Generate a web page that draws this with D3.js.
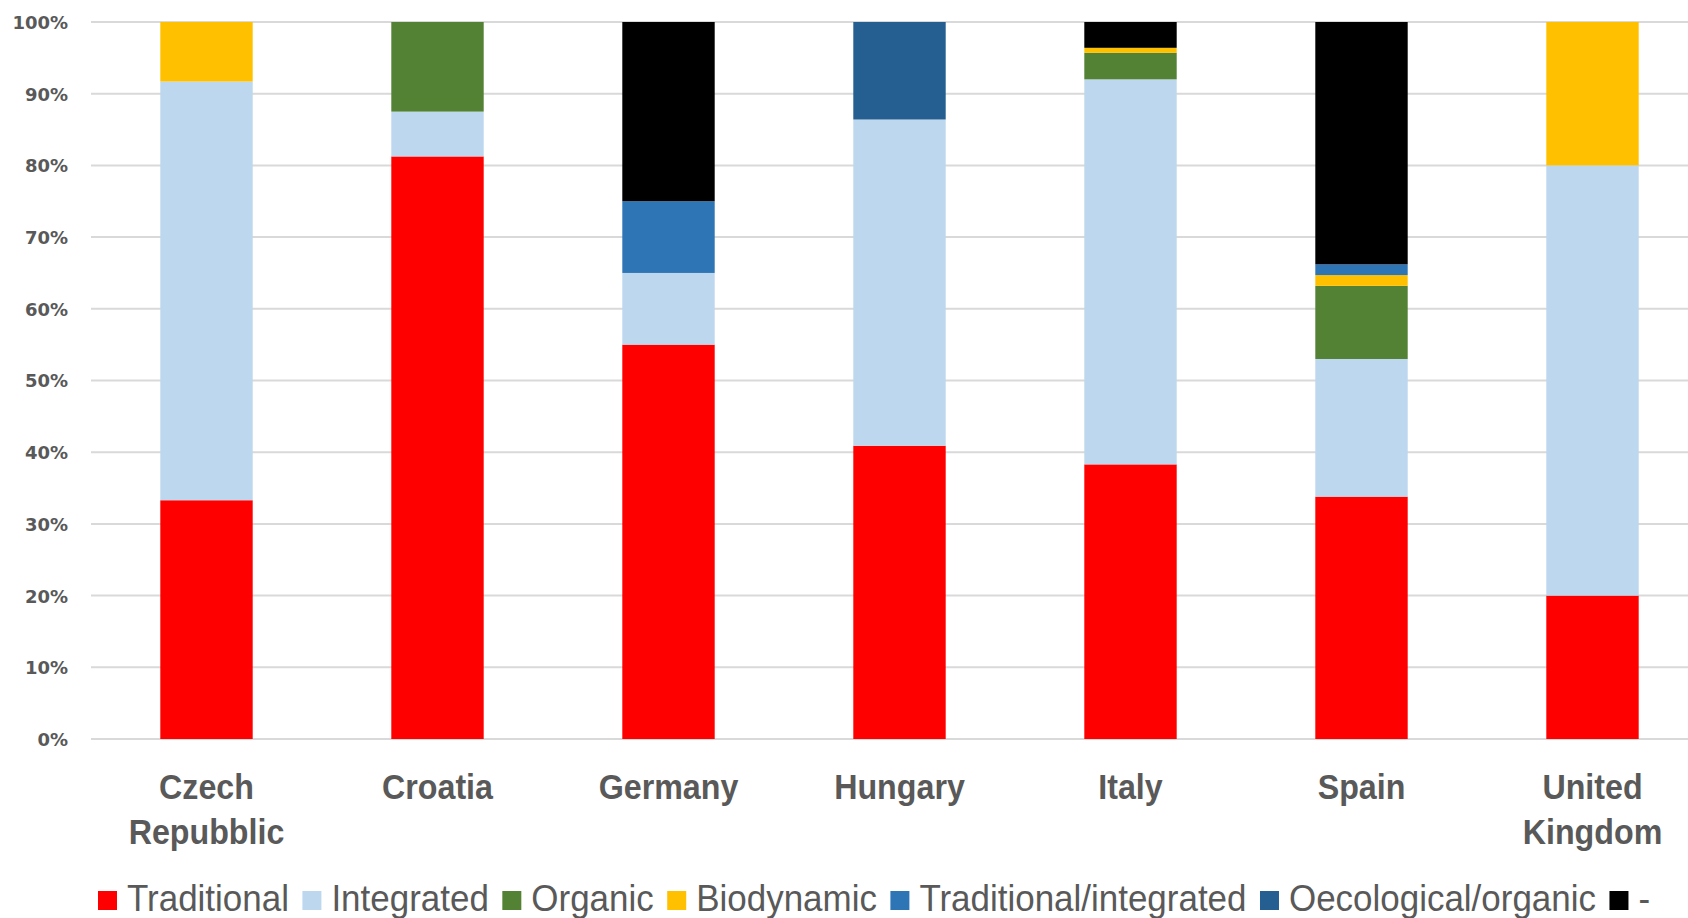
<!DOCTYPE html>
<html><head><meta charset="utf-8">
<script src="https://cdn.jsdelivr.net/npm/d3@7"></script>
<style>
html,body{margin:0;padding:0;background:#fff;overflow:hidden}
svg{display:block}
</style></head>
<body>
<svg id="chart" width="1688" height="918"></svg>
<script>
const categories = [["Czech","Repubblic"],["Croatia"],["Germany"],["Hungary"],["Italy"],["Spain"],["United","Kingdom"]];
const seriesNames = ["Traditional","Integrated","Organic","Biodynamic","Traditional/integrated","Oecological/organic","-"];
const seriesColors = ["#FF0000","#BDD7EE","#548235","#FFC000","#2E75B6","#255E91","#000000"];
const traditional   = [33.3, 81.25, 55.0, 40.9, 38.3, 33.8, 20.0];
const integrated    = [58.4,  6.25, 10.0, 45.5, 53.7, 19.2, 60.0];
const organic       = [ 0.0, 12.5,   0.0,  0.0,  3.7, 10.2,  0.0];
const biodynamic    = [ 8.3,  0.0,   0.0,  0.0,  0.7,  1.5, 20.0];
const tradIntegrated= [ 0.0,  0.0,  10.0,  0.0,  0.0,  1.5,  0.0];
const oecological   = [ 0.0,  0.0,   0.0, 13.6,  0.0,  0.0,  0.0];
const dash          = [ 0.0,  0.0,  25.0,  0.0,  3.6, 33.8,  0.0];
const yTicks = [0,10,20,30,40,50,60,70,80,90,100];

const seriesValues = [traditional, integrated, organic, biodynamic, tradIntegrated, oecological, dash];
const rows = categories.map((c,i)=>{
  const r = {key:c.join(" ")};
  seriesNames.forEach((s,j)=>{ r[s] = seriesValues[j][i]; });
  return r;
});
const stacked = d3.stack().keys(seriesNames)(rows);

const svg = d3.select("#chart");
const textColor = "#595959";
const x = d3.scaleBand().domain(rows.map(r=>r.key)).range([91, 1708]).paddingInner(0.6).paddingOuter(0.3);
const y = d3.scaleLinear().domain([0,100]).range([739, 22]);

// gridlines
svg.append("g").selectAll("line").data(yTicks).join("line")
  .attr("x1", 91).attr("x2", 1688)
  .attr("y1", d=>y(d)).attr("y2", d=>y(d))
  .attr("stroke", "#D9D9D9").attr("stroke-width", 2);

// y axis labels
const yAxis = svg.append("g").attr("transform","translate(68,0)")
  .call(d3.axisLeft(y).tickValues(yTicks).tickFormat(d=>d+"%").tickSize(0).tickPadding(0));
yAxis.select(".domain").remove();
yAxis.selectAll("text").attr("font-family","DejaVu Sans, sans-serif").attr("font-weight","bold")
  .attr("font-size", 18).attr("fill", textColor).attr("dy","0.36em");

// bars
svg.append("g").selectAll("g").data(stacked).join("g")
  .attr("fill", (d,i)=>seriesColors[i])
  .selectAll("rect").data(d=>d).join("rect")
  .attr("x", d=>x(d.data.key))
  .attr("width", x.bandwidth())
  .attr("y", d=>y(d[1]))
  .attr("height", d=>Math.max(0, y(d[0])-y(d[1])));

// x labels (condensed look)
const xl = svg.append("g").selectAll("text").data(categories).join("text")
  .attr("transform", (d,i)=>`translate(${x(rows[i].key)+x.bandwidth()/2},799) scale(0.895,1)`)
  .attr("text-anchor","middle")
  .attr("font-family","Liberation Sans, Arial, sans-serif")
  .attr("font-weight","bold").attr("font-size", 36).attr("fill", textColor);
xl.each(function(d){
  const t = d3.select(this);
  d.forEach((line,k)=>{
    t.append("tspan").attr("x", 0).attr("dy", k===0?0:45).text(line);
  });
});

// legend
const lg = svg.append("g");
let cx = 0;
const sx = 0.945;
seriesNames.forEach((s,i)=>{
  const g = lg.append("g");
  g.append("rect").attr("x",0).attr("y",-20).attr("width",19).attr("height",19).attr("fill",seriesColors[i]);
  const t = g.append("text").attr("transform",`translate(29,0) scale(${sx},1)`)
    .attr("font-family","Liberation Sans, Arial, sans-serif")
    .attr("font-size", 37).attr("fill", textColor).text(s);
  const w = 29 + t.node().getComputedTextLength()*sx;
  g.attr("transform", `translate(${cx},911)`);
  cx += w + 13.5;
});
lg.attr("transform", `translate(98,0)`);
</script>
</body></html>
